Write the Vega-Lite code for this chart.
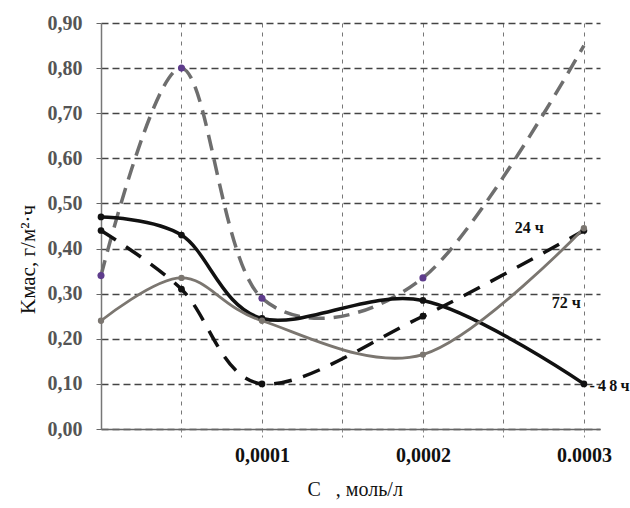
{
  "$schema": "https://vega.github.io/schema/vega-lite/v6.json",
  "autosize": "none",
  "width": 499,
  "height": 406,
  "padding": {"left": 101, "top": 23, "right": 30, "bottom": 79},
  "background": "white",
  "config": {"view": {"stroke": null}},
  "datasets": {
    "series": [
      {"s": "A", "x": 0, "y": 0.34},
      {"s": "A", "x": 0.00005, "y": 0.80},
      {"s": "A", "x": 0.0001, "y": 0.29},
      {"s": "A", "x": 0.0002, "y": 0.335},
      {"s": "A", "x": 0.0003, "y": 0.85},
      {"s": "B", "x": 0, "y": 0.47},
      {"s": "B", "x": 0.00005, "y": 0.43},
      {"s": "B", "x": 0.0001, "y": 0.245},
      {"s": "B", "x": 0.0002, "y": 0.285},
      {"s": "B", "x": 0.0003, "y": 0.10},
      {"s": "C", "x": 0, "y": 0.44},
      {"s": "C", "x": 0.00005, "y": 0.31},
      {"s": "C", "x": 0.0001, "y": 0.10},
      {"s": "C", "x": 0.0002, "y": 0.25},
      {"s": "C", "x": 0.0003, "y": 0.44},
      {"s": "D", "x": 0, "y": 0.24},
      {"s": "D", "x": 0.00005, "y": 0.335},
      {"s": "D", "x": 0.0001, "y": 0.24},
      {"s": "D", "x": 0.0002, "y": 0.165},
      {"s": "D", "x": 0.0003, "y": 0.445}
    ],
    "labels": [
      {"t": "24 ч", "x": 0.000257, "y": 0.446},
      {"t": "72 ч", "x": 0.00028, "y": 0.279},
      {"t": "-\u20094\u20098\u2009ч", "x": 0.0003035, "y": 0.095}
    ]
  },
  "data": {"name": "series"},
  "encoding": {
    "x": {
      "field": "x", "type": "quantitative",
      "scale": {"domain": [0, 0.00031], "nice": false, "zero": false},
      "axis": {
        "values": [0.00005, 0.0001, 0.00015, 0.0002, 0.00025, 0.0003],
        "labelExpr": "round(datum.value*100000)==10 ? '0,0001' : round(datum.value*100000)==20 ? '0,0002' : round(datum.value*100000)==30 ? '0.0003' : ''",
        "labelFont": "Liberation Serif", "labelFontSize": 20, "labelFontWeight": "bold", "labelColor": "#111",
        "labelPadding": 8, "tickSize": 8, "tickColor": "#888", "tickDash": [3, 3],
        "domainColor": "#666", "domainWidth": 1.5,
        "grid": true, "gridColor": "#777", "gridDash": [4, 5], "gridWidth": 1,
        "title": "C\u00a0\u00a0\u00a0, моль/л",
        "titleFont": "Liberation Serif", "titleFontSize": 20, "titleFontWeight": "normal", "titleColor": "#111",
        "titleAnchor": "start", "titleAlign": "left", "titleX": 206, "titlePadding": 14
      }
    },
    "y": {
      "field": "y", "type": "quantitative",
      "scale": {"domain": [0, 0.9], "nice": false},
      "axis": {
        "values": [0, 0.1, 0.2, 0.3, 0.4, 0.5, 0.6, 0.7, 0.8, 0.9],
        "labelExpr": "replace(format(datum.value, '.2f'), '.', ',')",
        "labelFont": "Liberation Serif", "labelFontSize": 20, "labelFontWeight": "bold", "labelColor": "#555",
        "labelPadding": 14, "tickSize": 5, "tickColor": "#666",
        "domainColor": "#777", "domainWidth": 1.5,
        "grid": true, "gridColor": "#444", "gridDash": [7, 4], "gridWidth": 1.3,
        "title": "Kмас, г/м²·ч",
        "titleFont": "Liberation Serif", "titleFontSize": 21, "titleFontWeight": "normal", "titleColor": "#111",
        "titleAngle": -90, "titleAlign": "center", "titleBaseline": "bottom", "titleX": -63, "titleY": 236
      }
    }
  },
  "layer": [
    {
      "transform": [{"filter": "datum.s == 'A'"}],
      "mark": {"type": "line", "interpolate": "cardinal", "color": "#6e6e6e", "strokeWidth": 3.5, "strokeDash": [16, 9]}
    },
    {
      "transform": [{"filter": "datum.s == 'C'"}],
      "mark": {"type": "line", "interpolate": "cardinal", "color": "#111", "strokeWidth": 3.5, "strokeDash": [18, 12]}
    },
    {
      "transform": [{"filter": "datum.s == 'B'"}],
      "mark": {"type": "line", "interpolate": "cardinal", "color": "#111", "strokeWidth": 3.5}
    },
    {
      "transform": [{"filter": "datum.s == 'D'"}],
      "mark": {"type": "line", "interpolate": "cardinal", "color": "#7b7670", "strokeWidth": 2.8}
    },
    {
      "transform": [{"filter": "datum.s == 'B' || datum.s == 'C'"}],
      "mark": {"type": "circle", "color": "#111", "size": 45, "opacity": 1}
    },
    {
      "transform": [{"filter": "datum.s == 'D'"}],
      "mark": {"type": "circle", "color": "#7b7670", "size": 40, "opacity": 1}
    },
    {
      "transform": [{"filter": "datum.s == 'A' && datum.x < 0.00029"}],
      "mark": {"type": "circle", "color": "#5e3c8c", "size": 50, "opacity": 1}
    },
    {
      "data": {"name": "labels"},
      "mark": {"type": "text", "align": "left", "baseline": "middle", "font": "Liberation Serif", "fontSize": 16, "fontWeight": "bold", "color": "#111"},
      "encoding": {"text": {"field": "t"}}
    }
  ]
}
